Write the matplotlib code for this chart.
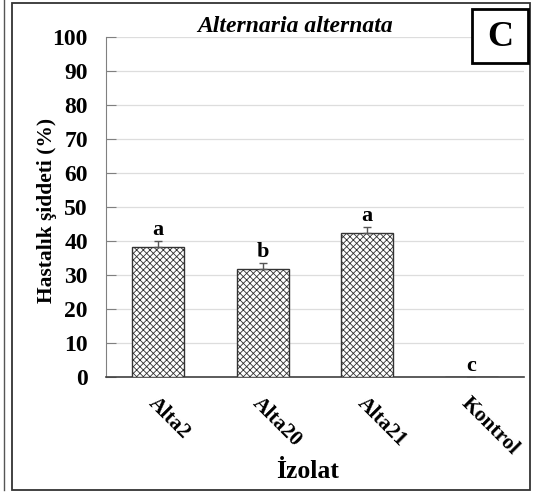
import matplotlib.pyplot as plt
from matplotlib.patches import Rectangle
from matplotlib.lines import Line2D

plt.rcParams['font.family'] = ['Liberation Serif', 'DejaVu Serif']
plt.rcParams['hatch.linewidth'] = 0.6

# data
isolates = ['Alta2', 'Alta20', 'Alta21', 'Kontrol']
severity = [38.2, 31.8, 42.3, 0.0]
errors = [1.8, 1.6, 1.9, 0.0]
groups = ['a', 'b', 'a', 'c']

fig = plt.figure(figsize=(5.33, 4.93), dpi=100)
ax = fig.add_axes([0.1989, 0.2353, 0.7835, 0.6897])

x = range(len(isolates))
ax.bar(x, severity, width=0.5, color='white', edgecolor='#333333',
       linewidth=1.0, hatch='xxxxx', zorder=3)
ax.errorbar(x, severity, yerr=[[0] * len(errors), errors], fmt='none',
            ecolor='#555555', elinewidth=1, capsize=3, capthick=1, zorder=4)

# significance letters
for i, (v, e, g) in enumerate(zip(severity, errors, groups)):
    ax.text(i, v + e + 0.3, g, ha='center', va='bottom',
            fontsize=16, fontweight='bold')

ax.set_xlim(-0.5, len(isolates) - 0.5)
ax.set_ylim(0, 100)
ax.set_yticks(range(0, 101, 10))
ax.yaxis.grid(True, color='#dddddd', linewidth=0.9, zorder=0)
ax.set_axisbelow(True)

for s in ['top', 'right']:
    ax.spines[s].set_visible(False)
ax.spines['left'].set_color('#808080')
ax.spines['bottom'].set_color('#404040')
ax.spines['bottom'].set_linewidth(1.2)

ax.tick_params(axis='y', direction='in', length=7, color='#808080',
               labelsize=17, pad=13)
ax.tick_params(axis='x', length=0, labelsize=15.5, pad=12)
for lab in ax.get_yticklabels():
    lab.set_fontweight('bold')

ax.set_xticks(list(x))
ax.set_xticklabels(isolates, rotation=-45, ha='left', va='top',
                   rotation_mode='anchor', fontweight='bold')

ax.set_ylabel('Hastalık şiddeti (%)', fontsize=15.5, fontweight='bold')
ax.set_xlabel('İzolat', fontsize=18.5, fontweight='bold')
ax.xaxis.set_label_coords(0.482, -0.245)
ax.yaxis.set_label_coords(-0.118, 0.49)

fig.text(295 / 533, 1 - 26 / 493, 'Alternaria alternata', ha='center',
         va='center', fontsize=17, fontweight='bold', style='italic')

# panel frames
fig.patches.append(Rectangle((12 / 533, 3 / 493), 518 / 533, 487 / 493,
                             transform=fig.transFigure, fill=False,
                             edgecolor='#333333', linewidth=1.3))
fig.lines.append(Line2D([4 / 533, 4 / 533], [3 / 493, 1.0],
                        transform=fig.transFigure, color='#555555',
                        linewidth=1.0))
fig.patches.append(Rectangle((472 / 533, 1 - 63 / 493), 56 / 533, 54 / 493,
                             transform=fig.transFigure, facecolor='white',
                             edgecolor='black', linewidth=2))
fig.text(500 / 533, 1 - 37 / 493, 'C', ha='center', va='center',
         fontsize=26, fontweight='bold')

fig.savefig('out.png', dpi=100)
